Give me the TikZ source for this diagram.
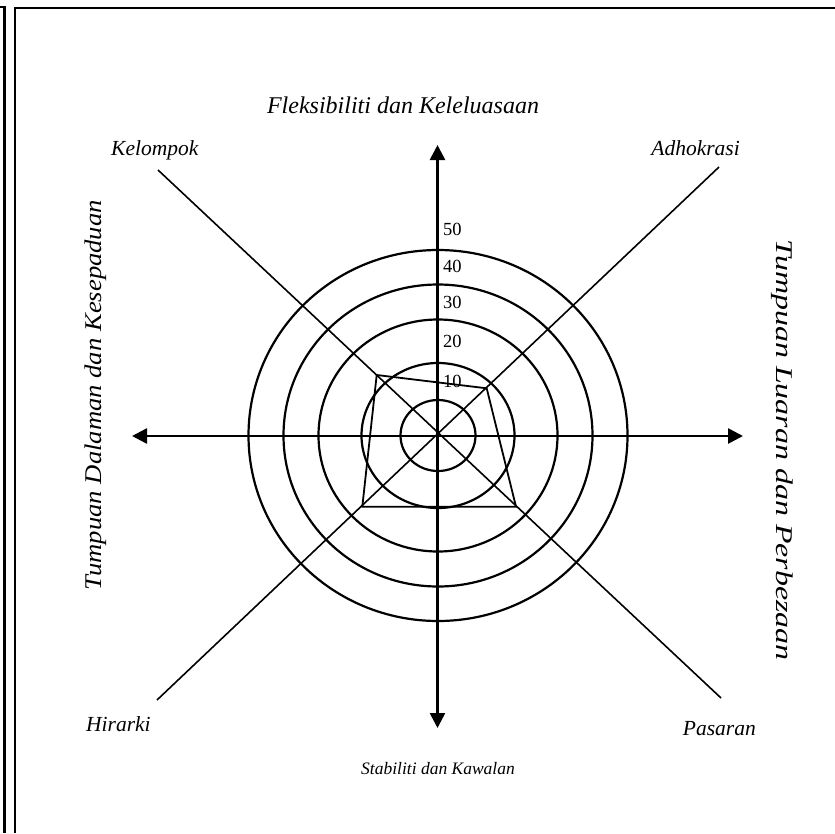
\documentclass[tikz,border=0pt]{standalone}
\usepackage{fontspec}
\setmainfont{Liberation Serif}
\usetikzlibrary{arrows.meta}
\begin{document}
\begin{tikzpicture}[x=1pt,y=-1pt,
  tip/.tip={Triangle[length=15pt,width=15pt]},
  axis/.style={line width=2.6pt,tip-tip},
  ring/.style={line width=2.2pt},
  diag/.style={line width=1.6pt},
  profile/.style={line width=1.8pt,line join=miter},
  frame/.style={line width=2.4pt},
  corner/.style={font=\fontsize{21.5}{24}\selectfont\itshape,inner sep=0pt},
  title/.style={font=\fontsize{24}{28}\selectfont\itshape,inner sep=0pt},
  subtitle/.style={font=\fontsize{17.5}{20}\selectfont\itshape,inner sep=0pt},
  sidetitle/.style={font=\fontsize{24}{28}\selectfont\itshape,inner sep=0pt},
  tick/.style={font=\fontsize{18.5}{20}\selectfont,inner sep=0pt,anchor=west}]
\useasboundingbox (0,0) rectangle (835,833);

% page frame: double rule on the left, single rule on top
\draw[frame] (0,6.7) -- (4.5,6.7) -- (4.5,833);
\draw[frame] (15,833) -- (15,8) -- (835,8);

% centre and ends of the axes
\coordinate (C) at (438,435.5);
\coordinate (N) at (437.5,145);
\coordinate (S) at (437.5,728);
\coordinate (W) at (132,436);
\coordinate (E) at (743,436);
\coordinate (NW) at (158,170);
\coordinate (SE) at (721,698);
\coordinate (NE) at (719,167);
\coordinate (SW) at (157,700);

% concentric rings
\foreach \rx/\ry in {37.5/35.5,76.5/72.5,119.5/116,154.5/151,189.5/185.5}
  \draw[ring] (C) ellipse [x radius=\rx, y radius=\ry];

% diagonals
\draw[diag] (NW) -- (SE);
\draw[diag] (NE) -- (SW);

% main axes
\draw[axis] (W) -- (E);
\draw[axis] (S) -- (N);

% profile
\coordinate (P1) at (376.7,375);
\coordinate (P2) at (486.7,388.3);
\coordinate (P3) at (516,506.7);
\coordinate (P4) at (362.3,506.7);
\draw[profile] (P1) -- (P2) -- (P3) -- (P4) -- cycle;

% scale
\node[tick] (t50) at (443,229) {50};
\node[tick] (t40) at (443,266) {40};
\node[tick] (t30) at (443,302) {30};
\node[tick] (t20) at (443,341) {20};
\node[tick] (t10) at (443,381) {10};

% labels
\node[title,anchor=base] (top) at (403,113) {Fleksibiliti dan Keleluasaan};
\node[subtitle,anchor=base] (bottom) at (438,774) {Stabiliti dan Kawalan};
\node[corner,anchor=base west] (kel) at (111,155) {Kelompok};
\node[corner,anchor=base east] (adh) at (740,155) {Adhokrasi};
\node[corner,anchor=base west] (hir) at (86,731) {Hirarki};
\node[corner,anchor=base east] (pas) at (756,735) {Pasaran};
\node[sidetitle,rotate=90] (left) at (96,395)
  {\scalebox{1.11}[1]{Tumpuan Dalaman dan Kesepaduan}};
\node[sidetitle,rotate=-90] (right) at (782,450)
  {\scalebox{1.33}[1]{Tumpuan Luaran dan Perbezaan}};
\end{tikzpicture}
\end{document}
